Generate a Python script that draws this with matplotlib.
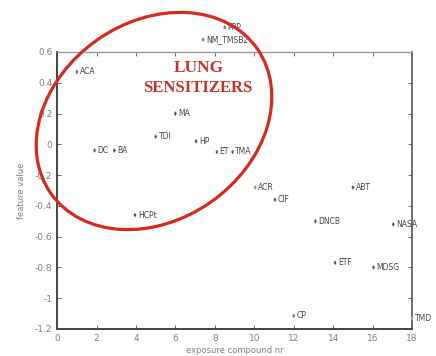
import numpy as np
import matplotlib
matplotlib.use("Agg")
from matplotlib import pyplot as plt
from matplotlib.patches import Ellipse

# compounds: exposure compound nr vs feature value
labels = ["ACA", "MA", "TDI", "HP", "DC", "BA", "ET", "TMA", "NM_TMSB2", "PPP",
          "ACR", "CIF", "ABT", "HCPt", "DNCB", "NASA", "ETF", "MDSG", "CP", "TMD"]
compound_nr = [1.0, 6.0, 5.0, 7.05, 1.9, 2.9, 8.1, 8.9, 7.4, 8.5,
               10.05, 11.05, 15.0, 3.95, 13.1, 17.05, 14.1, 16.05, 12.0, 18.0]
feature_value = [0.47, 0.20, 0.05, 0.02, -0.04, -0.04, -0.05, -0.05, 0.68, 0.76,
                 -0.28, -0.36, -0.28, -0.46, -0.50, -0.52, -0.77, -0.80, -1.115, -1.13]
marker_colors = ["#8a5a5a", "#555555", "#555555", "#555555", "#a04a4a", "#555555",
                 "#a04a4a", "#a04a4a", "#777777", "#777777",
                 "#8aa060", "#555555", "#555555", "#555555", "#555555", "#555555",
                 "#555555", "#555555", "#777777", "#a0b060"]

x_ticks = np.arange(0, 19, 2)
y_ticks = [-1.2, -1, -0.8, -0.6, -0.4, -0.2, 0, 0.2, 0.4, 0.6]
y_ticklabels = ["-1.2", "-1", "-0.8", "-0.6", "-0.4", "-0.2", "0", "0.2", "0.4", "0.6"]

fig = plt.figure(figsize=(4.36, 3.56), dpi=100)
ax = fig.add_axes([0.131, 0.076, 0.814, 0.778])

ax.scatter(compound_nr, feature_value, s=6, c=marker_colors, marker="d",
           linewidths=0, clip_on=False, zorder=3)
for lab, x, y in zip(labels, compound_nr, feature_value):
    ax.annotate(lab, (x, y), xytext=(2, 0), textcoords="offset points",
                fontsize=5.5, color="#444444", va="center", ha="left",
                annotation_clip=False)

ax.set_xlim(0, 18)
ax.set_ylim(-1.2, 0.6)
ax.set_xticks(x_ticks)
ax.set_yticks(y_ticks)
ax.set_yticklabels(y_ticklabels)
ax.tick_params(direction="in", top=True, right=True, labelsize=6.5,
               labelcolor="#808080", color="#555555", length=3, width=0.6)
for side in ["left", "bottom"]:
    ax.spines[side].set_color("#444444")
    ax.spines[side].set_linewidth(1.4)
ax.spines["top"].set_color("#999999")
ax.spines["top"].set_linewidth(1.0)
ax.spines["right"].set_color("#555555")
ax.spines["right"].set_linewidth(1.2)
ax.set_xlabel("exposure compound nr", fontsize=6, color="#808080", labelpad=2)
ax.set_ylabel("feature value", fontsize=6, color="#808080", labelpad=6)

# red hand-drawn ellipse and annotation, in pixel coordinates
over = fig.add_axes([0, 0, 1, 1], facecolor="none")
over.set_xlim(0, 436)
over.set_ylim(0, 356)
over.axis("off")
over.add_patch(Ellipse((154, 356 - 121), 252, 198, angle=35, fill=False,
                       edgecolor="#d42a20", linewidth=2.3))
over.text(199, 356 - 68, "LUNG", fontsize=12.5, fontweight="bold",
          family="Liberation Serif", color="#c8302a", ha="center", va="center")
over.text(198, 356 - 88, "SENSITIZERS", fontsize=12, fontweight="bold",
          family="Liberation Serif", color="#c8302a", ha="center", va="center")

fig.savefig("out.png", dpi=100)
